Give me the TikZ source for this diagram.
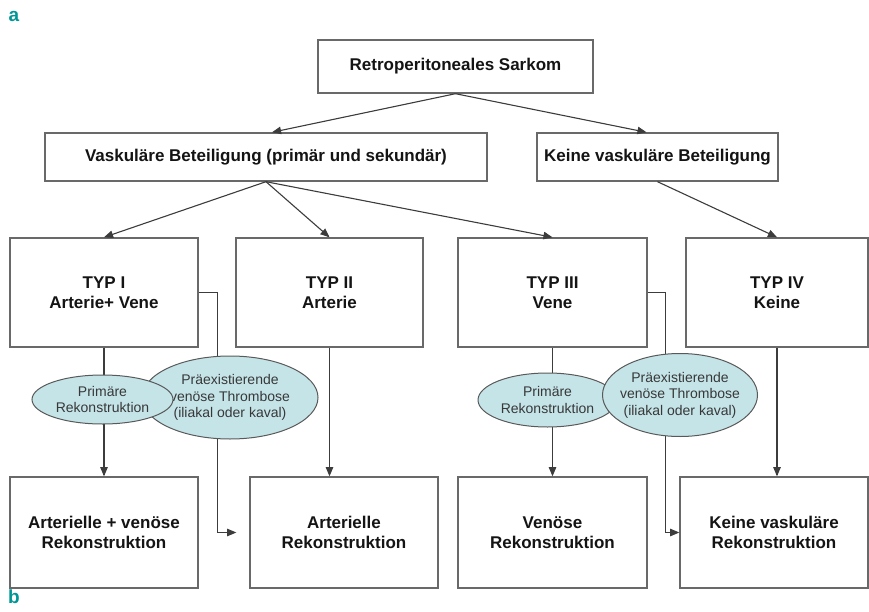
\documentclass[tikz,border=0pt]{standalone}
\usepackage{fontspec}
\setmainfont{Liberation Sans}
\usepackage{xcolor}
\usepackage{tikz}
\usetikzlibrary{shapes,arrows}
\usetikzlibrary{positioning}
\definecolor{boxgray}{RGB}{105,105,105}
\definecolor{linegray}{RGB}{60,60,60}
\definecolor{ovalfill}{RGB}{197,228,232}
\definecolor{tagteal}{RGB}{0,150,150}
\tikzstyle{block} = [rectangle, draw=boxgray, line width=1.4pt, fill=white,
    text=black!92, font=\bfseries\fontsize{17}{19.5}\selectfont,
    align=center, inner sep=0pt]
\tikzstyle{oval} = [ellipse, draw=black!65, line width=1pt, fill=ovalfill,
    text=black!78, font=\fontsize{14}{16.5}\selectfont, align=center,
    inner sep=0pt]
\tikzstyle{line} = [draw=linegray, line width=1.1pt, -triangle 45]
\tikzstyle{panel} = [text=tagteal, font=\bfseries\fontsize{19}{21}\selectfont]

\begin{document}
\begin{tikzpicture}[x=1pt, y=-1pt]
  \useasboundingbox (0,0) rectangle (869,612);
  % Place nodes
  \node [panel] (taga) at (14,16) {a};
  \node [panel] (tagb) at (14,597) {b};
  \node [block, minimum width=275pt, minimum height=53pt] (sarkom) at (455.5,66.5) {Retroperitoneales Sarkom};
  \node [block, minimum width=442pt, minimum height=48pt] (vask) at (266,157) {Vaskuläre Beteiligung (primär und sekundär)};
  \node [block, minimum width=241pt, minimum height=48pt, right of=vask, node distance=391.5pt] (keine) {Keine vaskuläre Beteiligung};

  \node [block, minimum width=188pt, minimum height=109pt] (typ1) at (104,292.5) {TYP I\\Arterie+ Vene};
  \node [block, minimum width=187pt, minimum height=109pt, right of=typ1, node distance=225.5pt] (typ2) {TYP II\\Arterie};
  \node [block, minimum width=189pt, minimum height=109pt, right of=typ2, node distance=223pt] (typ3) {TYP III\\Vene};
  \node [block, minimum width=182pt, minimum height=109pt, right of=typ3, node distance=224.5pt] (typ4) {TYP IV\\Keine};

  \node [block, minimum width=188pt, minimum height=111pt, below of=typ1, node distance=240pt] (rek1) {Arterielle + venöse\\Rekonstruktion};
  \node [block, minimum width=188pt, minimum height=111pt, right of=rek1, node distance=240pt] (rek2) {Arterielle\\Rekonstruktion};
  \node [block, minimum width=189pt, minimum height=111pt, below of=typ3, node distance=240pt] (rek3) {Venöse\\Rekonstruktion};
  \node [block, minimum width=188pt, minimum height=111pt, right of=rek3, node distance=221.5pt] (rek4) {Keine vaskuläre\\Rekonstruktion};

  % Draw edges
  \path [line] (sarkom.south) -- ([xshift=6pt]vask.north);
  \path [line] (sarkom.south) -- ([xshift=-11pt]keine.north);
  \path [line] (vask.south) -- (typ1.north);
  \path [line] (vask.south) -- (typ2.north);
  \path [line] (vask.south) -- (typ3.north);
  \path [line] (keine.south) -- (typ4.north);
  \path [line] (typ1.south) -- (rek1.north);
  \path [line] (typ2.south) -- (typ2.south |- rek2.north);
  \path [line] (typ3.south) -- (rek3.north);
  \path [line] (typ4.south) -- (typ4.south |- rek4.north);
  \coordinate (gap) at ([xshift=-13pt]rek2.west);
  \path [line] (typ1.east) -- ++(19,0) |- (gap);
  \path [line] (typ3.east) -- ++(18,0) |- (rek4.west);

  % Ovals go on top of the edges
  \node [oval, minimum width=176pt, minimum height=83pt] (throm1) at (230,397.5) {Präexistierende\\venöse Thrombose\\(iliakal oder kaval)};
  \node [oval, minimum width=141pt, minimum height=49pt] (prim1) at (102.5,399.5) {Primäre\\Rekonstruktion};
  \node [oval, minimum width=139pt, minimum height=54pt] (prim3) at (547.5,400) {Primäre\\Rekonstruktion};
  \node [oval, inner xsep=-8pt, minimum width=155pt, minimum height=83pt] (throm3) at (680,395) {Präexistierende\\venöse Thrombose\\(iliakal oder kaval)};
\end{tikzpicture}
\end{document}
